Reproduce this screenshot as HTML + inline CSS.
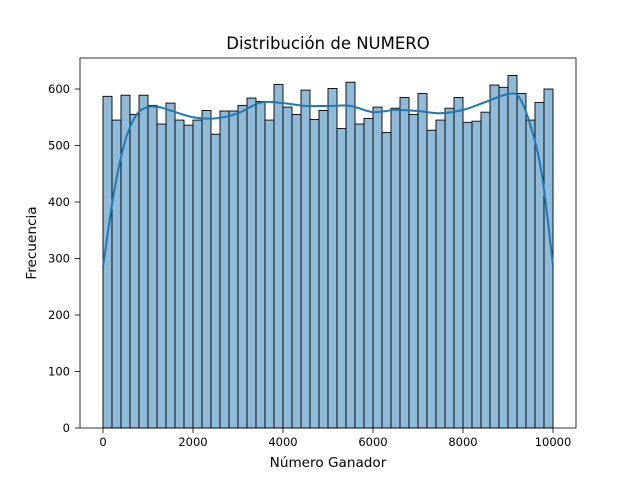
<!DOCTYPE html>
<html><head><meta charset="utf-8"><style>
body{margin:0;background:#fff;}
svg{display:block;font-family:"DejaVu Sans","Liberation Sans",sans-serif;}
</style></head><body>
<svg id="chart" width="640" height="480">
<rect width="640" height="480" fill="#fff"/>
<text x="328" y="49" text-anchor="middle" font-size="16.5">Distribución de NUMERO</text>
<g id="bars"></g>
<path id="kde" fill="none" stroke="#1f77b4" stroke-width="2"/>
<rect x="80" y="58" width="496" height="370" fill="none" stroke="#000" stroke-width="0.8"/>
<g id="xt"></g>
<g id="yt"></g>
<text x="328" y="467" text-anchor="middle" font-size="13.6">Número Ganador</text>
<text transform="translate(36,243) rotate(-90)" text-anchor="middle" font-size="13.6">Frecuencia</text>
</svg>
<script>
const counts=[587,545,589,555,589,571,538,575,545,536,545,562,520,561,561,571,584,578,545,608,568,555,598,546,562,601,530,612,538,548,568,523,566,585,555,592,527,545,566,585,541,543,559,607,603,624,592,545,576,600];
const binWidth=200;
const kdeX=[0,250,500,750,1000,1250,1500,2000,2500,3000,3500,4000,4500,5000,5500,6000,6500,7000,7500,8000,8500,9000,9250,9500,9750,10000];
const kdeY=[285,420,510,555,568,568,562,550,548,557,576,575,570,570,570,559,563,561,557,563,577,591,585,535,450,288];
const xTicks=[0,2000,4000,6000,8000,10000];
const yTicks=[0,100,200,300,400,500,600];
const NS="http://www.w3.org/2000/svg";
const sx=v=>103+v*0.045;
const sy=v=>428-v*0.565;
function mk(t,a,p){const e=document.createElementNS(NS,t);for(const k in a)e.setAttribute(k,a[k]);p.appendChild(e);return e;}
const bars=document.getElementById('bars');
counts.forEach((c,i)=>{
 const x0=sx(i*binWidth),x1=sx((i+1)*binWidth);
 const r=mk('rect',{x:x0,y:sy(c),width:x1-x0,height:sy(0)-sy(c),fill:'#8fbbd9',stroke:'#000','stroke-width':0.9},bars);
 
 
});
const P=kdeX.map((x,i)=>[sx(x),sy(kdeY[i])]);
let d='M'+P[0][0]+','+P[0][1];
for(let i=0;i<P.length-1;i++){
 const p0=P[Math.max(0,i-1)],p1=P[i],p2=P[i+1],p3=P[Math.min(P.length-1,i+2)];
 d+=' C'+(p1[0]+(p2[0]-p0[0])/6)+','+(p1[1]+(p2[1]-p0[1])/6)+' '+(p2[0]-(p3[0]-p1[0])/6)+','+(p2[1]-(p3[1]-p1[1])/6)+' '+p2[0]+','+p2[1];
}
document.getElementById('kde').setAttribute('d',d);
const xt=document.getElementById('xt');
xTicks.forEach(v=>{
 const l=mk('line',{x1:sx(v),x2:sx(v),y1:428,y2:433,stroke:'#000','stroke-width':0.8},xt);
 
 
 const t=mk('text',{x:sx(v),y:446,'text-anchor':'middle','font-size':11.5},xt);
 t.textContent=v;
 
 
});
const yt=document.getElementById('yt');
yTicks.forEach(v=>{
 const l=mk('line',{x1:75,x2:80,y1:sy(v),y2:sy(v),stroke:'#000','stroke-width':0.8},yt);
 
 
 const t=mk('text',{x:70,y:sy(v)+4,'text-anchor':'end','font-size':11.5},yt);
 t.textContent=v;
 
 
});
</script>
</body></html>
